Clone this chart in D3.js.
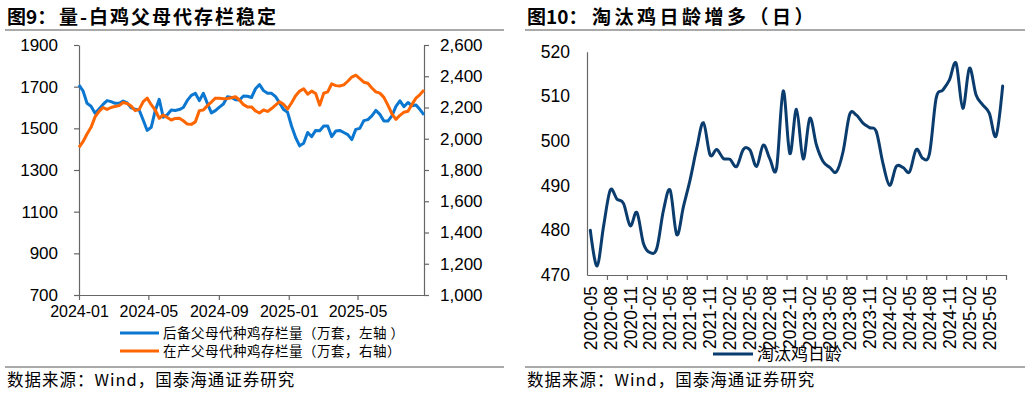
<!DOCTYPE html>
<html>
<head>
<meta charset="utf-8">
<script src="https://cdn.jsdelivr.net/npm/d3@7"></script>
<style>
body { margin: 0; background: #fff; }
svg text { font-family: "Liberation Sans", Arial, sans-serif; fill: #000; }
svg text.cn { font-family: "Noto Sans CJK SC", sans-serif; }
</style>
</head>
<body>
<svg id="chart" width="1032" height="393"></svg>
<script>
// ---- data: figure 9 (weekly, from 2024-01) ----
let parentStart = new Date(2024, 0, 1);

// 后备父母代种鸡存栏量 (万套, left axis)
let reserveStock = [
    1708, 1680, 1620, 1606, 1572, 1593, 1615, 1633, 1628, 1620,
    1620, 1631, 1622, 1598, 1592, 1588, 1540, 1490, 1505, 1585,
    1639, 1553, 1565, 1588, 1586, 1590, 1600, 1634, 1658, 1668,
    1633, 1668, 1620, 1574, 1585, 1602, 1617, 1652, 1648, 1637,
    1636, 1655, 1654, 1648, 1690, 1710, 1681, 1668, 1668, 1652,
    1622, 1590, 1577, 1510, 1456, 1416, 1428, 1480, 1460, 1490,
    1488, 1511, 1511, 1460, 1487, 1490, 1480, 1470, 1446, 1495,
    1500, 1537, 1542, 1560, 1586, 1567, 1535, 1535, 1560, 1605,
    1632, 1604, 1624, 1608, 1612, 1590, 1565
];

// 在产父母代种鸡存栏量 (万套, right axis)
let productiveStock = [
    1945, 1981, 2030, 2073, 2140, 2175, 2200, 2188, 2200, 2207,
    2212, 2232, 2226, 2210, 2180, 2188, 2237, 2260, 2218, 2184,
    2131, 2152, 2136, 2120, 2130, 2131, 2115, 2094, 2092, 2108,
    2180, 2184, 2212, 2235, 2260, 2259, 2256, 2258, 2262, 2269,
    2248, 2218, 2204, 2204, 2178, 2165, 2184, 2175, 2193, 2215,
    2237, 2220, 2190, 2230, 2275, 2305, 2320, 2285, 2305, 2290,
    2215, 2291, 2300, 2352, 2340, 2338, 2345, 2368, 2395, 2407,
    2385, 2362, 2355, 2325, 2300, 2292, 2265, 2215, 2160, 2124,
    2150, 2170, 2176, 2220, 2260, 2283, 2312
];

let leftTicksL = [700, 900, 1100, 1300, 1500, 1700, 1900];
let leftTicksR = [1000, 1200, 1400, 1600, 1800, 2000, 2200, 2400, 2600];
let leftDateTicks = ['2024-01', '2024-05', '2024-09', '2025-01', '2025-05'];

// ---- data: figure 10 (monthly, from 2020-05) ----
// 淘汰鸡日龄 (日)
let cullAge = [
    480, 472, 481, 489, 487, 486, 481, 484, 477, 475,
    476, 484.5, 489, 479, 485.3, 491.3, 498.4, 504.1, 496.9, 498.1,
    496.1, 495.9, 494.3, 498.1, 498, 494.3, 499.1, 496, 493.9, 511.2,
    497.2, 507.1, 496, 505.1, 499.1, 495.4, 494.1, 493.1, 497.6, 506,
    505.8, 504, 503, 502.1, 495, 490.1, 494.3, 494.1, 493.1, 498.1,
    496.1, 497.2, 509.6, 511.4, 513.7, 517.4, 507.3, 516.3, 510.3, 508.1,
    506.2, 501.1, 512.3
];
let ageTicks = [470, 480, 490, 500, 510, 520];
let monthLabels = [
    '2020-05', '2020-08', '2020-11', '2021-02', '2021-05', '2021-08', '2021-11',
    '2022-02', '2022-05', '2022-08', '2022-11', '2023-02', '2023-05', '2023-08',
    '2023-11', '2024-02', '2024-05', '2024-08', '2024-11', '2025-02', '2025-05'
];

let blue = '#0b77d0';
let orange = '#ff6600';
let navy = '#0b3c6e';
let axisColor = '#666';

let svg = d3.select('#chart');

// separators and titles
function header(x0, x1, label, title, titleX, spacing) {
    svg.append('text').classed('cn', true)
        .attr('x', x0 + 2).attr('y', 24)
        .attr('font-size', '19px').attr('font-weight', 'bold')
        .text(label);
    svg.append('text').classed('cn', true)
        .attr('x', titleX).attr('y', 24)
        .attr('font-size', '19px').attr('font-weight', 'bold')
        .attr('letter-spacing', spacing)
        .text(title);
    svg.append('line')
        .attr('x1', x0).attr('x2', x1).attr('y1', 30).attr('y2', 30)
        .attr('stroke', '#8c8c8c').attr('stroke-width', 1.5);
    svg.append('line')
        .attr('x1', x0).attr('x2', x1).attr('y1', 367).attr('y2', 367)
        .attr('stroke', '#8c8c8c').attr('stroke-width', 1.5);
    svg.append('text').classed('cn', true)
        .attr('x', x0 + 2).attr('y', 386)
        .attr('font-size', '16.5px')
        .attr('letter-spacing', '1px')
        .text('数据来源：Wind，国泰海通证券研究');
}
header(5, 504, '图9：', '量-白鸡父母代存栏稳定', 59, '2px');
header(525, 1025, '图10：', '淘汰鸡日龄增多（日）', 592, '3.5px');

function styleAxis(g, size) {
    g.select('.domain').attr('stroke', axisColor).attr('stroke-width', 1.2);
    g.selectAll('.tick line').attr('stroke', axisColor).attr('stroke-width', 1.2);
    g.selectAll('text').attr('font-size', size).attr('fill', '#000');
}

// ================= figure 9 =================
let parentDates = reserveStock.map((d, i) => d3.timeDay.offset(parentStart, 7 * i));

let xTime = d3.scaleTime()
    .domain([parentStart, parentDates[parentDates.length - 1]])
    .range([79, 424]);
let yLeft = d3.scaleLinear().domain([700, 1900]).range([295, 45]);
let yRight = d3.scaleLinear().domain([1000, 2600]).range([295, 45]);

let parse = d3.timeParse('%Y-%m');

let gxL = svg.append('g')
    .attr('transform', 'translate(0,295)')
    .call(d3.axisBottom(xTime)
        .tickValues(leftDateTicks.map(parse))
        .tickFormat(d3.timeFormat('%Y-%m'))
        .tickSize(5).tickSizeOuter(0).tickPadding(6));
styleAxis(gxL, '16px');

let gyL = svg.append('g')
    .attr('transform', 'translate(79,0)')
    .call(d3.axisLeft(yLeft).tickValues(leftTicksL)
        .tickFormat(d3.format('d'))
        .tickSize(5).tickSizeOuter(0).tickPadding(16));
styleAxis(gyL, '17px');

let gyR = svg.append('g')
    .attr('transform', 'translate(424,0)')
    .call(d3.axisRight(yRight).tickValues(leftTicksR)
        .tickFormat(d3.format(','))
        .tickSize(5).tickSizeOuter(0).tickPadding(11));
styleAxis(gyR, '17px');

svg.append('path')
    .datum(reserveStock)
    .attr('fill', 'none').attr('stroke', blue).attr('stroke-width', 3)
    .attr('stroke-linejoin', 'round')
    .attr('d', d3.line().x((d, i) => xTime(parentDates[i])).y(d => yLeft(d)));

svg.append('path')
    .datum(productiveStock)
    .attr('fill', 'none').attr('stroke', orange).attr('stroke-width', 3)
    .attr('stroke-linejoin', 'round')
    .attr('d', d3.line().x((d, i) => xTime(parentDates[i])).y(d => yRight(d)));

// legend
let legendL = [
    { name: '后备父母代种鸡存栏量（万套，左轴 ）', color: blue, y: 333 },
    { name: '在产父母代种鸡存栏量（万套，右轴）', color: orange, y: 351 }
];
legendL.forEach(function (d) {
    svg.append('line')
        .attr('x1', 120).attr('x2', 159).attr('y1', d.y).attr('y2', d.y)
        .attr('stroke', d.color).attr('stroke-width', 3);
    svg.append('text').classed('cn', true)
        .attr('x', 163).attr('y', d.y).attr('dy', '0.36em')
        .attr('font-size', '13.5px')
        .attr('letter-spacing', '0.5px')
        .text(d.name);
});

// ================= figure 10 =================
let xMonth = d3.scaleLinear().domain([0, cullAge.length]).range([587, 1006]);
let yAge = d3.scaleLinear().domain([470, 520]).range([275, 51.7]);

let gxA = svg.append('g')
    .attr('transform', 'translate(0,275)')
    .call(d3.axisBottom(xMonth)
        .tickValues(d3.range(3, cullAge.length + 1, 3))
        .tickFormat('')
        .tickSize(5).tickSizeOuter(0));
styleAxis(gxA, '17px');

let gyA = svg.append('g')
    .attr('transform', 'translate(587,0)')
    .call(d3.axisLeft(yAge).tickValues(ageTicks)
        .tickSize(0).tickPadding(17));
styleAxis(gyA, '17.5px');

svg.append('g').selectAll('text')
    .data(monthLabels)
    .enter()
    .append('text')
    .attr('transform', (d, i) => `translate(${xMonth(i * 3 + 0.5)},286) rotate(-90)`)
    .attr('text-anchor', 'end')
    .attr('dy', '0.36em')
    .attr('font-size', '17.5px')
    .text(d => d);

svg.append('path')
    .datum(cullAge)
    .attr('fill', 'none').attr('stroke', navy).attr('stroke-width', 3)
    .attr('stroke-linejoin', 'round').attr('stroke-linecap', 'round')
    .attr('d', d3.line()
        .curve(d3.curveCatmullRom.alpha(0))
        .x((d, i) => xMonth(i + 0.5))
        .y(d => yAge(d)));

svg.append('line')
    .attr('x1', 713).attr('x2', 753).attr('y1', 354).attr('y2', 354)
    .attr('stroke', navy).attr('stroke-width', 3);
svg.append('text').classed('cn', true)
    .attr('x', 757).attr('y', 354).attr('dy', '0.36em')
    .attr('font-size', '17px')
    .text('淘汰鸡日龄');
</script>
</body>
</html>
